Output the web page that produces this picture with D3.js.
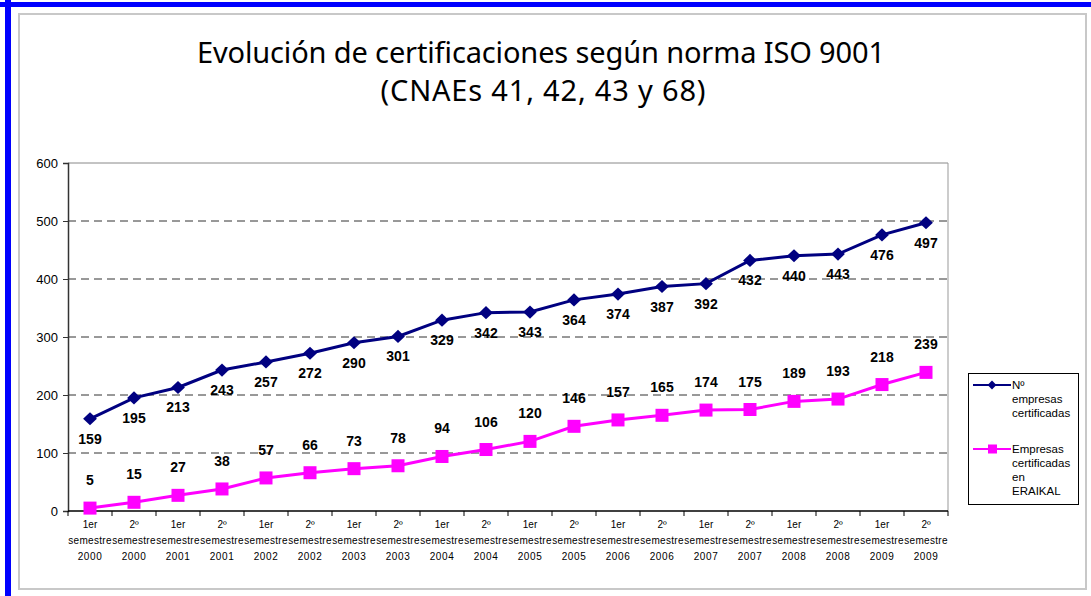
<!DOCTYPE html>
<html>
<head>
<meta charset="utf-8">
<script src="https://cdn.jsdelivr.net/npm/d3@7"></script>
<style>
  body { margin: 0; background: #fff; }
  svg { display: block; }
</style>
</head>
<body>
<script>
// medidas de la ventana
var width = 1091;
var height = 596;

// datos
var semestres = ['1er', '2º', '1er', '2º', '1er', '2º', '1er', '2º', '1er', '2º',
                 '1er', '2º', '1er', '2º', '1er', '2º', '1er', '2º', '1er', '2º'];
var anios = ['2000', '2000', '2001', '2001', '2002', '2002', '2003', '2003', '2004', '2004',
             '2005', '2005', '2006', '2006', '2007', '2007', '2008', '2008', '2009', '2009'];
var empresas = [159, 195, 213, 243, 257, 272, 290, 301, 329, 342, 343, 364, 374, 387, 392, 432, 440, 443, 476, 497];
var eraikal = [5, 15, 27, 38, 57, 66, 73, 78, 94, 106, 120, 146, 157, 165, 174, 175, 189, 193, 218, 239];
var yTicks = [0, 100, 200, 300, 400, 500, 600];
var leyenda = [['Nº', 'empresas', 'certificadas'], ['Empresas', 'certificadas', 'en', 'ERAIKAL']];

var azul = '#000080';
var rosa = '#ff00ff';

var plot = { left: 68, right: 948, top: 163, bottom: 511 };

var svg = d3.select('body')
            .append('svg')
            .attr('width', width)
            .attr('height', height);

// marco
svg.append('rect')
   .attr('x', 19).attr('y', 14)
   .attr('width', 1067).attr('height', 575)
   .attr('fill', 'none')
   .attr('stroke', '#c8c8c8')
   .attr('stroke-width', 2);
svg.append('rect').attr('x', 0).attr('y', 2).attr('width', 1091).attr('height', 5).attr('fill', '#0000ff');
svg.append('rect').attr('x', 5).attr('y', 0).attr('width', 6).attr('height', 596).attr('fill', '#0000ff');

// titulo
var titulo = svg.append('text')
   .attr('text-anchor', 'middle')
   .attr('font-family', 'Noto Sans, sans-serif')
   .attr('font-size', 29)
   .attr('fill', '#000');
titulo.append('tspan').attr('x', 541).attr('y', 63)
      .attr('textLength', 688).attr('lengthAdjust', 'spacing')
      .text('Evolución de certificaciones según norma ISO 9001');
titulo.append('tspan').attr('x', 543).attr('y', 101)
      .attr('textLength', 325).attr('lengthAdjust', 'spacing')
      .text('(CNAEs 41, 42, 43 y 68)');

var x = d3.scaleBand()
          .domain(d3.range(empresas.length))
          .range([plot.left, plot.right])
          .padding(0);

var y = d3.scaleLinear()
          .domain([0, 600])
          .range([plot.bottom, plot.top]);

var cx = function(i){ return x(i) + x.bandwidth() / 2; };

// rejilla
svg.selectAll('.grid')
   .data(yTicks.filter(function(d){ return d > 0 && d < 600; }))
   .enter()
   .append('line')
   .attr('x1', plot.left).attr('x2', plot.right)
   .attr('y1', function(d){ return y(d); })
   .attr('y2', function(d){ return y(d); })
   .attr('stroke', '#333')
   .attr('stroke-width', 1)
   .attr('stroke-dasharray', '8,5');

// borde del area del grafico
svg.append('line')
   .attr('x1', plot.left).attr('x2', plot.right)
   .attr('y1', y(600)).attr('y2', y(600))
   .attr('stroke', '#888');
svg.append('line')
   .attr('x1', plot.right).attr('x2', plot.right)
   .attr('y1', y(600)).attr('y2', y(0))
   .attr('stroke', '#999');

// eje y
var yAxis = d3.axisLeft(y)
              .tickValues(yTicks)
              .tickSize(5)
              .tickPadding(5);
var gy = svg.append('g')
            .attr('transform', 'translate(' + plot.left + ',0)')
            .call(yAxis);
gy.select('.domain').attr('stroke', '#333').attr('stroke-width', 1.5);
gy.selectAll('.tick line').attr('stroke', '#333');
gy.selectAll('.tick text')
  .attr('font-family', 'Liberation Sans, Arial, sans-serif')
  .attr('font-size', 13)
  .attr('fill', '#000');

// eje x
svg.append('line')
   .attr('x1', plot.left).attr('x2', plot.right)
   .attr('y1', y(0)).attr('y2', y(0))
   .attr('stroke', '#000')
   .attr('stroke-width', 1.5);
svg.selectAll('.xtick')
   .data(d3.range(empresas.length + 1))
   .enter()
   .append('line')
   .attr('x1', function(i){ return i < empresas.length ? x(i) : plot.right; })
   .attr('x2', function(i){ return i < empresas.length ? x(i) : plot.right; })
   .attr('y1', y(0)).attr('y2', y(0) + 5)
   .attr('stroke', '#000');

var xl = svg.selectAll('.xlabel')
            .data(d3.range(empresas.length))
            .enter()
            .append('text')
            .attr('text-anchor', 'middle')
            .attr('font-family', 'Liberation Sans, Arial, sans-serif')
            .attr('font-size', 10)
            .attr('fill', '#000');
xl.append('tspan').attr('x', cx).attr('y', 528).text(function(i){ return semestres[i]; });
xl.append('tspan').attr('x', cx).attr('y', 544).attr('letter-spacing', 0.3).text('semestre');
xl.append('tspan').attr('x', cx).attr('y', 560).attr('letter-spacing', 0.6).text(function(i){ return anios[i]; });

// lineas
var linea = function(datos){
  return d3.line()
           .x(function(d, i){ return cx(i); })
           .y(function(d){ return y(d); })(datos);
};

svg.append('path')
   .attr('d', linea(empresas))
   .attr('fill', 'none')
   .attr('stroke', azul)
   .attr('stroke-width', 3);
svg.append('path')
   .attr('d', linea(eraikal))
   .attr('fill', 'none')
   .attr('stroke', rosa)
   .attr('stroke-width', 3);

var diamante = d3.symbol().type(d3.symbolDiamond2).size(110);
svg.selectAll('.diamante')
   .data(empresas)
   .enter()
   .append('path')
   .attr('d', diamante)
   .attr('transform', function(d, i){ return 'translate(' + cx(i) + ',' + y(d) + ') scale(1.05,1)'; })
   .attr('fill', azul);

svg.selectAll('.cuadrado')
   .data(eraikal)
   .enter()
   .append('rect')
   .attr('x', function(d, i){ return cx(i) - 6.5; })
   .attr('y', function(d){ return y(d) - 6.5; })
   .attr('width', 13).attr('height', 13)
   .attr('fill', rosa);

// etiquetas de valores
svg.selectAll('.lblAzul')
   .data(empresas)
   .enter()
   .append('text')
   .attr('x', function(d, i){ return cx(i); })
   .attr('y', function(d){ return y(d) + 25; })
   .attr('text-anchor', 'middle')
   .attr('font-family', 'Liberation Sans, Arial, sans-serif')
   .attr('font-weight', 'bold')
   .attr('font-size', 14)
   .text(function(d){ return d; });

svg.selectAll('.lblRosa')
   .data(eraikal)
   .enter()
   .append('text')
   .attr('x', function(d, i){ return cx(i); })
   .attr('y', function(d){ return y(d) - 23; })
   .attr('text-anchor', 'middle')
   .attr('font-family', 'Liberation Sans, Arial, sans-serif')
   .attr('font-weight', 'bold')
   .attr('font-size', 14)
   .text(function(d){ return d; });

// leyenda
svg.append('rect')
   .attr('x', 968.5).attr('y', 373.5)
   .attr('width', 110).attr('height', 131)
   .attr('fill', '#fff')
   .attr('stroke', '#000');

var legY = [385, 449];
var legColor = [azul, rosa];
leyenda.forEach(function(lineas, k){
  svg.append('line')
     .attr('x1', 973).attr('x2', 1011)
     .attr('y1', legY[k]).attr('y2', legY[k])
     .attr('stroke', legColor[k])
     .attr('stroke-width', 2);
  if (k === 0) {
    svg.append('path')
       .attr('d', d3.symbol().type(d3.symbolDiamond2).size(50))
       .attr('transform', 'translate(992,' + legY[k] + ')')
       .attr('fill', azul);
  } else {
    svg.append('rect')
       .attr('x', 988).attr('y', legY[k] - 4.5)
       .attr('width', 9).attr('height', 9)
       .attr('fill', rosa);
  }
  var t = svg.append('text')
             .attr('font-family', 'Liberation Sans, Arial, sans-serif')
             .attr('font-size', 11.5)
             .attr('fill', '#000');
  lineas.forEach(function(s, j){
    t.append('tspan')
     .attr('x', 1012)
     .attr('y', legY[k] + 4 + j * 14)
     .text(s);
  });
});
</script>
</body>
</html>
